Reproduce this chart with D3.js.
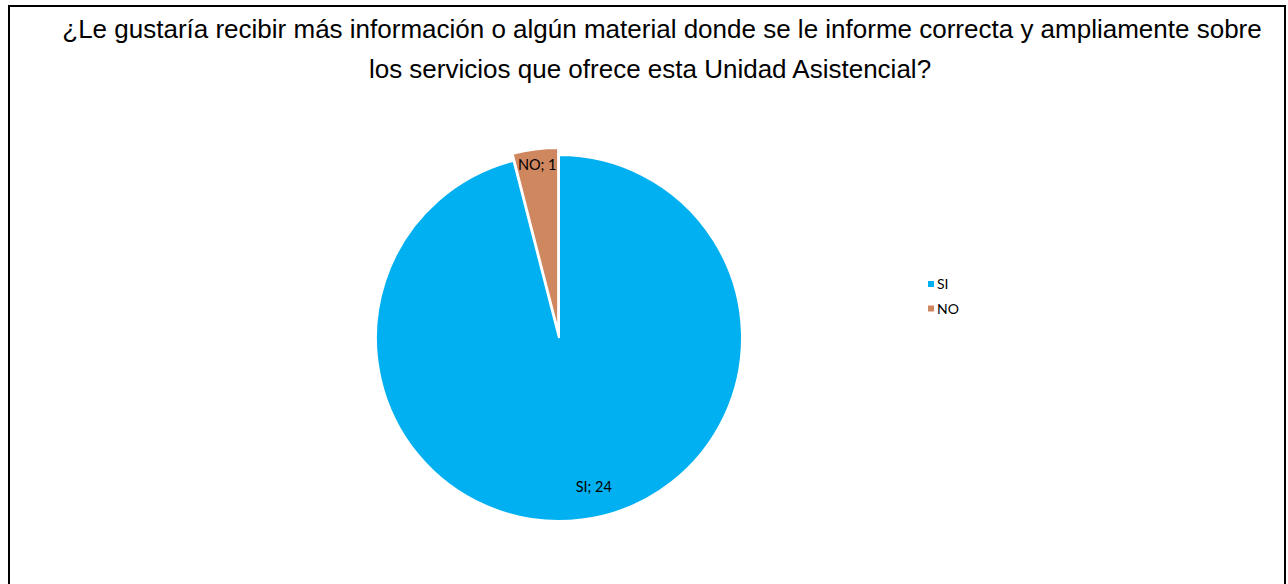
<!DOCTYPE html>
<html><head><meta charset="utf-8">
<script src="https://cdn.jsdelivr.net/npm/d3@7"></script>
<style>html,body{margin:0;padding:0;background:#fff;}svg{display:block;}</style>
</head><body>
<svg id="c" width="1288" height="584"></svg>
<script>
const titleLines = ["¿Le gustaría recibir más información o algún material donde se le informe correcta y ampliamente sobre",
                    "los servicios que ofrece esta Unidad Asistencial?"];
const categories = ["SI", "NO"];
const values = [24, 1];
const colors = ["#00B0F0", "#CF8760"];

const svg = d3.select("#c");
svg.append("rect").attr("x", 9).attr("y", 6).attr("width", 1276).attr("height", 620)
  .attr("fill", "none").attr("stroke", "#000").attr("stroke-width", 2);

svg.selectAll("text.title").data(titleLines).join("text").attr("class", "title")
  .attr("x", (d, i) => i === 0 ? 662 : 650).attr("y", (d, i) => 38 + i * 40)
  .attr("text-anchor", "middle")
  .style("font-family", "Liberation Sans, Arial, sans-serif").style("font-size", "26px").style("fill", "#000")
  .text(d => d);

const cx = 559, cy = 338, r = 183, explode = 7;
const data = categories.map((c, i) => ({cat: c, value: values[i], color: colors[i]}));
const pie = d3.pie().value(d => d.value).sort(null);
const arcs = pie(data);
const arc = d3.arc().innerRadius(0).outerRadius(r);
const g = svg.append("g").attr("transform", `translate(${cx},${cy})`);

function offset(d, k) {
  const a = (d.startAngle + d.endAngle) / 2;
  return [Math.sin(a) * k, -Math.cos(a) * k];
}

g.selectAll("path").data(arcs).join("path")
  .attr("d", arc)
  .attr("fill", d => d.data.color)
  .attr("stroke", "#fff").attr("stroke-width", 2).attr("stroke-linejoin", "miter")
  .attr("transform", d => {
    const k = d.data.cat === "NO" ? explode : 0;
    const [dx, dy] = offset(d, k);
    return `translate(${dx},${dy})`;
  });

const labelR = {SI: 150, NO: 167};
const labelShift = {SI: 16, NO: 0};
g.selectAll("text.lbl").data(arcs).join("text").attr("class", "lbl")
  .attr("x", d => offset(d, labelR[d.data.cat] + (d.data.cat === "NO" ? explode : 0))[0] + labelShift[d.data.cat])
  .attr("y", d => offset(d, labelR[d.data.cat] + (d.data.cat === "NO" ? explode : 0))[1])
  .attr("dy", "0.35em")
  .attr("text-anchor", "middle")
  .style("font-family", "Lato, Carlito, Calibri, sans-serif").style("font-size", "14.5px").style("fill", "#000")
  .text(d => `${d.data.cat}; ${d.data.value}`);

const leg = svg.append("g").attr("transform", "translate(928,284)");
const li = leg.selectAll("g").data(data).join("g").attr("transform", (d, i) => `translate(0,${i * 24.5})`);
li.append("rect").attr("x", 0).attr("y", -3).attr("width", 6).attr("height", 6).attr("fill", d => d.color);
li.append("text").attr("x", 9).attr("y", 0).attr("dy", "0.36em")
  .style("font-family", "Lato, Carlito, Calibri, sans-serif").style("font-size", "14px").style("fill", "#000")
  .text(d => d.cat);
</script>
</body></html>
